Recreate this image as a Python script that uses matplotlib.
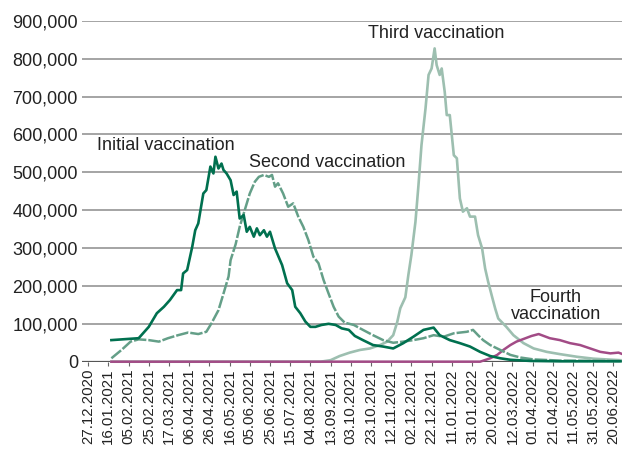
import matplotlib
matplotlib.use("Agg")
import matplotlib.pyplot as plt
from matplotlib.ticker import FuncFormatter

plt.rcParams['font.family'] = ['Liberation Sans', 'DejaVu Sans']

# tick labels, one every 20 days (day index 0 = 27.12.2020)
tick_labels = ["27.12.2020", "16.01.2021", "05.02.2021", "25.02.2021", "17.03.2021",
               "06.04.2021", "26.04.2021", "16.05.2021", "05.06.2021", "25.06.2021",
               "15.07.2021", "04.08.2021", "13.09.2021", "03.10.2021", "23.10.2021",
               "12.11.2021", "02.12.2021", "22.12.2021", "11.01.2022", "31.01.2022",
               "20.02.2022", "12.03.2022", "01.04.2022", "21.04.2022", "11.05.2022",
               "31.05.2022", "20.06.2022"]

# values in thousands
initial_day = [23, 50, 60, 68, 75, 81, 88, 92, 94, 98, 103, 106, 109, 114, 117, 121, 124,
               126, 129, 132, 134, 137, 141, 144, 147, 150, 154, 157, 160, 164, 167, 170,
               174, 177, 180, 185, 192, 197, 202, 205, 210, 215, 220, 225, 231, 238, 245,
               251, 258, 264, 272, 282, 292, 302, 312, 322, 332, 342, 348, 358, 368, 378,
               388, 398, 408, 418, 438, 467, 527]
initial_val = [57, 62, 92, 128, 145, 163, 189, 189, 233, 242, 303, 347, 365, 444, 453, 515,
               497, 541, 510, 523, 506, 497, 479, 440, 449, 378, 387, 343, 356, 330, 352,
               334, 347, 330, 343, 299, 255, 207, 189, 145, 128, 106, 92, 92, 97, 100, 97,
               88, 84, 68, 57, 44, 40, 35, 49, 66, 84, 90, 70, 57, 49, 40, 26, 15, 9, 5,
               2, 1, 1]

second_day = [23, 33, 42, 50, 60, 70, 79, 89, 99, 109, 117, 122, 129, 134, 139, 141, 146,
              150, 155, 160, 165, 169, 174, 179, 182, 185, 188, 193, 198, 203, 208, 213,
              218, 223, 228, 233, 238, 243, 248, 254, 263, 272, 282, 292, 302, 312, 322,
              332, 342, 352, 362, 375, 381, 386, 391, 398, 408, 418, 428, 441, 467, 527]
second_val = [9, 31, 53, 59, 57, 53, 62, 70, 77, 73, 79, 101, 136, 180, 225, 268, 310,
              356, 400, 444, 475, 488, 493, 488, 493, 462, 471, 444, 409, 418, 383, 356,
              321, 277, 260, 216, 180, 145, 119, 103, 97, 84, 70, 57, 50, 53, 57, 62, 70,
              66, 75, 79, 84, 70, 57, 44, 31, 18, 11, 6, 3, 2]

third_day = [23, 230, 240, 249, 259, 269, 279, 289, 296, 302, 306, 309, 314, 317, 320,
             324, 327, 330, 334, 337, 340, 343, 345, 348, 350, 353, 355, 358, 362, 365,
             368, 371, 375, 378, 383, 386, 390, 393, 396, 400, 403, 406, 414, 421, 431,
             441, 454, 467, 484, 500, 527]
third_val = [0, 0, 4, 15, 24, 31, 35, 44, 53, 70, 105, 141, 170, 229, 282, 369, 466, 572,
             669, 757, 774, 827, 783, 757, 774, 712, 651, 651, 545, 537, 431, 396, 405,
             383, 383, 334, 299, 246, 211, 170, 140, 114, 92, 70, 49, 35, 26, 20, 13, 8, 4]

fourth_day = [23, 388, 398, 405, 411, 418, 424, 433, 439, 446, 451, 457, 467, 477, 487,
              497, 507, 517, 525, 528]
fourth_val = [0, 0, 9, 18, 31, 44, 53, 62, 68, 73, 68, 62, 57, 49, 44, 35, 26, 22, 24, 21]

fig = plt.figure(figsize=(6.22, 4.51), dpi=100)
ax = fig.add_axes([0.132, 0.198, 0.868, 0.756])

grey = "#959595"
ax.set_ylim(0, 900000)
ax.set_xlim(-6, 528.5)
ax.set_yticks(range(0, 900001, 100000))
ax.yaxis.set_major_formatter(FuncFormatter(lambda v, p: f"{int(v):,}"))
ax.grid(axis="y", color=grey, linewidth=1.2)
ax.set_axisbelow(True)
for s in ax.spines.values():
    s.set_visible(False)
ax.axhline(0, color="#555555", linewidth=1.6, zorder=1)

k = 1000
ax.plot(third_day, [v * k for v in third_val], color="#9dbfb0", lw=1.9,
        clip_on=False, zorder=3)
ax.plot(fourth_day, [v * k for v in fourth_val], color="#a24b86", lw=1.8,
        clip_on=False, zorder=4)
ax.plot(second_day, [v * k for v in second_val], color="#649f88", lw=1.8,
        linestyle=(0, (5, 0.8)), clip_on=False, zorder=5)
ax.plot(initial_day, [v * k for v in initial_val], color="#00704f", lw=1.9,
        clip_on=False, zorder=6)

ax.set_xticks(range(0, 20 * len(tick_labels), 20))
ax.set_xticklabels(tick_labels, rotation=90, fontsize=10.8, color="#222222")
ax.tick_params(axis="x", length=3, width=0.8, color="#666666", pad=2)
ax.tick_params(axis="y", length=0, pad=3, labelsize=13, labelcolor="#222222")

ax.text(77, 572000, "Initial vaccination", fontsize=13, ha="center", va="center", color="#222222")
ax.text(237, 527000, "Second vaccination", fontsize=13, ha="center", va="center", color="#222222")
ax.text(345, 867000, "Third vaccination", fontsize=13, ha="center", va="center", color="#222222")
ax.text(463, 147000, "Fourth\nvaccination", fontsize=13, ha="center", va="center",
        color="#222222", linespacing=1.0)

fig.savefig("out.png", dpi=100)
